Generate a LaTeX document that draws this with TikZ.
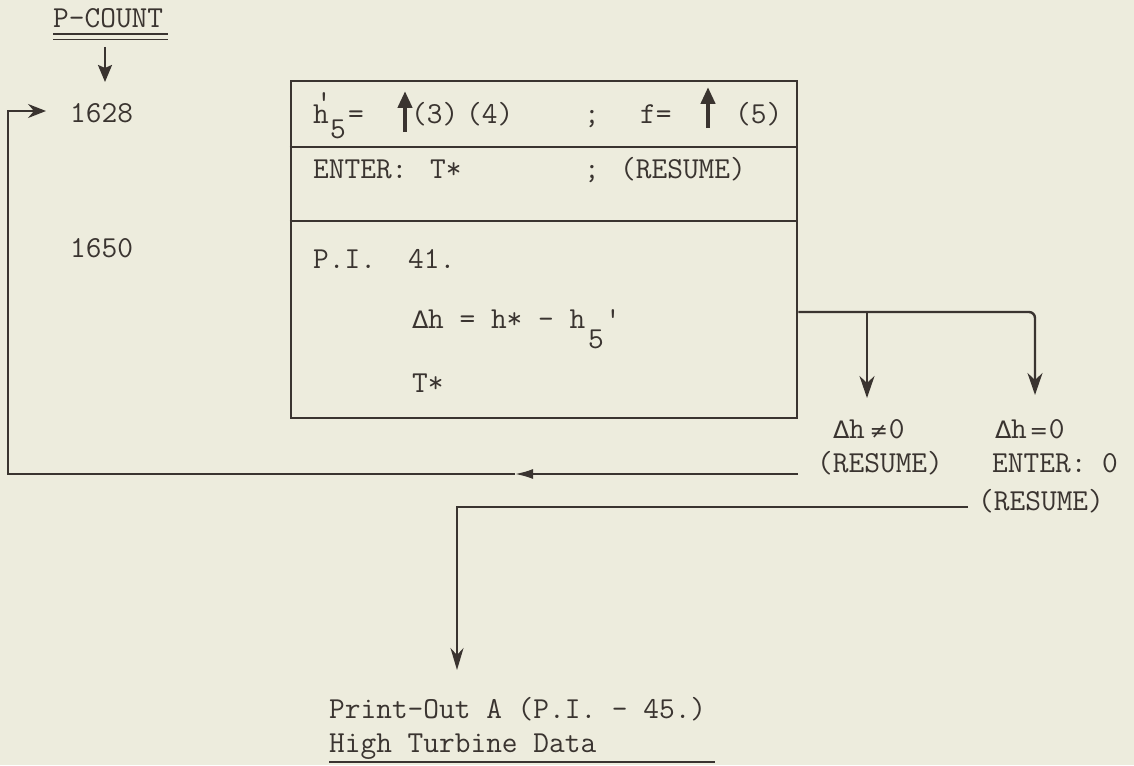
\documentclass[tikz,border=0pt]{standalone}
\usepackage{fontspec}
\newfontfamily\djv{DejaVu Sans}
\usetikzlibrary{arrows.meta}
\definecolor{paper}{RGB}{237,236,221}
\definecolor{ink}{RGB}{58,52,48}
\newcommand\twfont{\fontsize{30.5pt}{34pt}\selectfont\ttfamily}
\newcommand\dlt{\makebox[16pt][l]{\fontsize{24pt}{24pt}\djv Δ}}
\newcommand\neqsym{\makebox[16pt][c]{\fontsize{22pt}{22pt}\djv ≠}}
\newcommand\eqsym{\makebox[16pt][c]{\fontsize{22pt}{22pt}\djv =}}
\newcommand\tick{\textquotesingle}
\begin{document}
\begin{tikzpicture}[x=1pt,y=-1pt,
  every node/.style={inner sep=0pt,text=ink},
  txt/.style={anchor=base west,font=\twfont},
  boxline/.style={draw=ink,line width=2.6pt},
  conn/.style={draw=ink,line width=2.4pt},
  thin/.style={draw=ink,line width=1.9pt},
  downtip/.style={-{Stealth[length=22pt,width=15pt,inset=7pt]}},
  uparrow/.style={draw=ink,line width=4.5pt,-{Triangle[length=17pt,width=14pt]}}]
\fill[paper] (0,0) rectangle (1134,765);
\useasboundingbox (0,0) rectangle (1134,765);

% P-COUNT
\node[txt] (pc) at (53,28) {P-COUNT};
\draw[ink,line width=1.4pt] (53,34) -- (168,34) (53,39.5) -- (168,39.5);
\node[txt] (n1628) at (70,123) {1628};
\node[txt] (n1650) at (70,257) {1650};
\coordinate (pctop) at (105,47);
\coordinate (pctip) at (105,82);
\draw[conn,-{Stealth[length=17pt,width=14pt,inset=3pt]}] (pctop) -- (pctip);

% main box
\node[boxline,minimum width=506pt,minimum height=337pt] (box) at (544,249.5) {};
\draw[boxline] (box.west |- 0,147) -- (box.east |- 0,147);
\draw[boxline] (box.west |- 0,221) -- (box.east |- 0,221);

% row 1
\node[txt] (h1) at (313,124) {h};
\node[txt] at (330,139) {5};
\node[anchor=base,font=\twfont] at (324,111) {\tick};
\node[txt] at (348,124) {=};
\draw[uparrow] (405,132) -- (405,91);
\node[txt] at (411,124) {(3)};
\node[txt] at (466,124) {(4)};
\node[txt] at (584,124) {;};
\node[txt] (f) at (640,124) {f=};
\draw[uparrow] (708,128) -- (708,87);
\node[txt] at (735,124) {(5)};

% row 2
\node[txt] at (313,178) {ENTER:};
\node[txt] at (430,178) {T*};
\node[txt] at (584,178) {;};
\node[txt] at (620,178) {(RESUME)};

% row 3
\node[txt] at (313,268) {P.I.};
\node[txt] at (408,268) {41.};
\node[txt] (dh) at (412,328) {\dlt h = h* - h};
\node[txt] at (588,348) {5};
\node[anchor=base,font=\twfont] at (613,328) {\tick};
\node[txt] at (412,392) {T*};

% branches
\coordinate (split) at (box.east |- 0,312);
\coordinate (b1) at (867,312);
\coordinate (b1tip) at (867,398);
\coordinate (b2) at (1035,312);
\coordinate (b2tip) at (1035,395);
\draw[conn,rounded corners=6pt,downtip] (split) -- (b2) -- (b2tip);
\draw[conn,downtip] (b1) -- (b1tip);

% labels
\node[txt] (ne) at (833,438) {\dlt h\hspace{6pt}\neqsym\hspace{2pt}0};
\node[txt] (neres) at (817,472) {(RESUME)};
\node[txt] (eq) at (995,438) {\dlt h\hspace{4pt}\eqsym\hspace{2pt}0};
\node[txt] (eqent) at (992,472) {ENTER: 0};
\node[txt] (eqres) at (978,510) {(RESUME)};

% return loop
\coordinate (retstart) at ([xshift=-19pt,yshift=-2pt]neres.base west);
\coordinate (retmid) at (515,474);
\coordinate (retcorner1) at (8,474);
\coordinate (retcorner2) at (8,111);
\coordinate (rettip) at (46,111);
\draw[thin,-{Latex[length=18pt,width=10pt]}] (retstart) -- (retmid);
\draw[thin,-{Stealth[length=18pt,width=14pt,inset=6pt]}] (retmid) -- (retcorner1) -- (retcorner2) -- (rettip);

% print-out line
\coordinate (postart) at ([xshift=-10pt,yshift=3pt]eqres.base west);
\coordinate (pocorner) at (457,507);
\coordinate (potip) at (457,670);
\draw[thin,-{Stealth[length=22pt,width=13pt,inset=7pt]}] (postart) -- (pocorner) -- (potip);

\node[txt] (po) at (329,718) {Print-Out A (P.I. - 45.)};
\node[txt] (hd) at (329,752) {High Turbine Data};
\draw[ink,line width=1.6pt] (329,762) -- (715,762);
\end{tikzpicture}
\end{document}
